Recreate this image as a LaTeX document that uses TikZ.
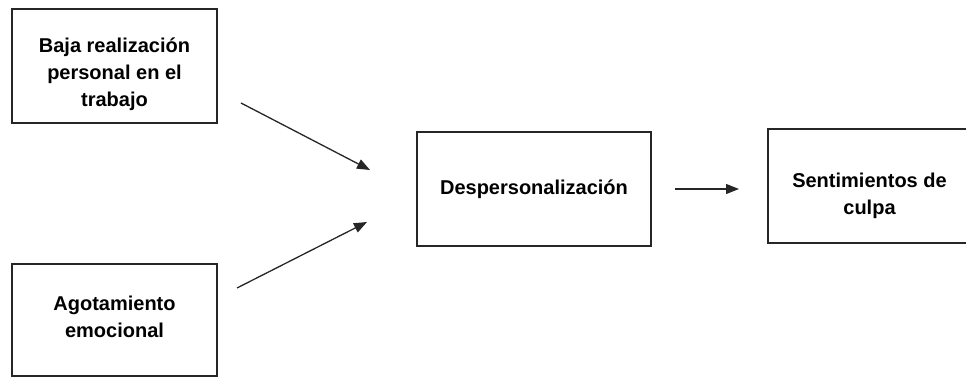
\documentclass[tikz,border=0pt]{standalone}
\usepackage{fontspec}
\setmainfont{Liberation Sans}
\usetikzlibrary{arrows.meta}
\begin{document}
\begin{tikzpicture}[x=1pt,y=1pt,
  box/.style={draw=black!85, line width=1.6pt, rectangle, inner sep=0pt},
  txt/.style={align=center, inner sep=0pt, font=\fontsize{20}{27}\selectfont\bfseries},
  conn/.style={draw=black!85, line width=1.3pt, -{Triangle[length=13pt,width=10pt]}}]
\useasboundingbox (0,0) rectangle (966,377);
\clip (0,0) rectangle (966,377);
\node[box, minimum width=205pt, minimum height=114pt] (baja) at (114.5,311) {};
\node[txt] (bajat) at (114.5,303) {Baja realización\\personal en el\\trabajo};
\node[box, minimum width=205pt, minimum height=112pt] (agot) at (114.5,57) {};
\node[txt] (agott) at (114.5,60) {Agotamiento\\emocional};
\node[box, minimum width=234pt, minimum height=114pt] (desp) at (534,188) {};
\node[txt] (despt) at (534,188) {Despersonalización};
\node[box, minimum width=203pt, minimum height=114pt] (sent) at (869.5,191) {};
\node[txt] (sentt) at (869.5,181) {Sentimientos de\\culpa};
\coordinate (a1s) at (241,274);
\coordinate (a1e) at (370,207);
\coordinate (a2s) at (237,89);
\coordinate (a2e) at (367,155);
\coordinate (a3s) at (675,188);
\coordinate (a3e) at (739,188);
\draw[conn] (a1s) -- (a1e);
\draw[conn] (a2s) -- (a2e);
\draw[conn] (a3s) -- (a3e);
\end{tikzpicture}
\end{document}
